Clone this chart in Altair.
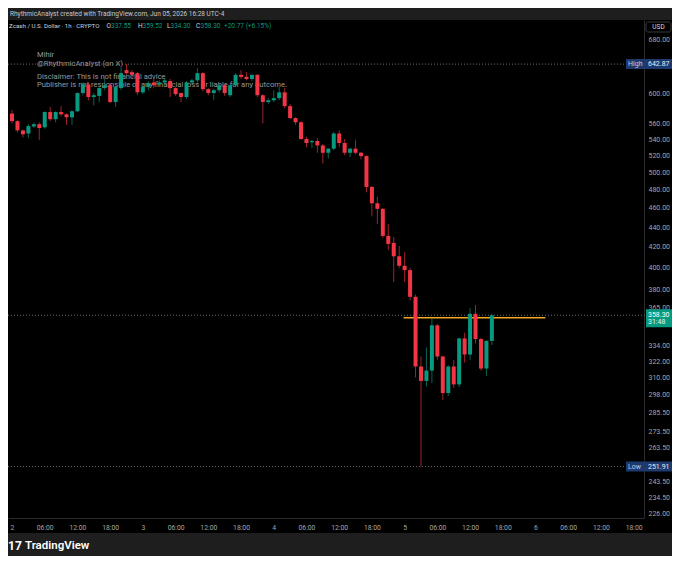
import altair as alt
import pandas as pd

FONT = "Roboto"
UP = "#089981"
DOWN = "#f23645"
GRAYTXT = "#a6a6a6"

# ---- candle data (Zcash / USD, 1h, from Jun 2 00:00) ----
hours = list(range(89))
opens = [573, 563, 551, 547, 556, 559, 555, 575, 565.5, 575, 572, 568, 576, 601, 613, 595.5,
         597, 608, 612, 588.5, 608, 634, 631, 629.5, 602, 609.5, 616, 613, 616, 618, 608, 601,
         595.5, 616, 619, 629.5, 606.5, 601, 605, 612, 598, 612, 627, 624, 621, 627, 598, 588.5,
         591, 594, 602, 583, 567, 561.5, 540, 536, 537.5, 532, 523, 528, 547, 535, 523, 528,
         523, 519, 483, 465, 459, 431, 424, 411, 402, 398, 374, 318, 307.5, 315, 350, 325.5,
         299, 318, 305, 339.5, 327, 359.5, 339, 316.5, 337.55]
highs = [578, 564, 552, 559, 561, 561.5, 576, 582, 576, 583, 573, 578, 602, 616, 615, 601,
         611, 622, 615, 611, 637, 642.87, 634, 631, 612, 618, 621, 619, 622, 621, 609.5, 602,
         618, 621, 637, 631, 608, 606.5, 613.5, 613.5, 613.5, 629.5, 634, 631, 628, 628, 599.5, 594,
         605, 609.5, 608, 586, 568, 563, 543, 539, 541, 534, 529, 549, 551, 540, 529, 539,
         524, 520, 484, 472, 460, 443, 430, 421, 415, 400, 376, 325.5, 332.5, 355.5, 351, 326,
         319, 323, 340, 344, 364.5, 367, 340, 338, 359.52]
lows = [560, 548.5, 542, 541, 554, 539, 553, 563, 561.5, 569.5, 558, 558, 575, 598, 591, 584,
        588.5, 605, 587, 582, 605, 627, 622, 598, 599.5, 605, 608, 611, 613.5, 595.5, 597, 588.5,
        593, 613.5, 616, 603.5, 598, 591, 602, 597, 595.5, 609.5, 621, 619, 618, 595.5, 560, 586,
        588.5, 591, 580, 565.5, 558, 539, 530, 529, 523, 510, 516, 526, 530, 520, 517.5, 521,
        515, 477, 451, 443, 429, 417, 387, 400, 387, 371, 310, 251.91, 303.5, 306, 323, 294,
        297, 302.5, 303, 321, 323, 335.5, 315, 311, 334.30]
closes = [563, 551, 546, 556.5, 559, 554, 575, 565.5, 575, 572, 568, 576, 601, 613.5, 595.5, 598,
          608, 612, 588.5, 609.5, 629.5, 629.5, 627, 602, 609.5, 615, 612, 616, 619, 608, 599.5, 595.5,
          616, 619, 629.5, 606.5, 601, 605, 612, 601, 612, 627, 624, 621, 627, 598, 588.5, 591,
          594, 602, 583, 567, 561.5, 540, 535, 537.5, 532, 523, 528, 547, 535, 523, 528, 523,
          519, 483, 465, 459, 431, 423, 411, 402, 398, 374, 318, 307.5, 315, 350, 325.5, 299,
          318, 305, 339.5, 327, 359.5, 339, 316.5, 337.55, 358.30]

# axis ticks
x_ticks = list(range(0, 115, 6))
y_ticks = [680, 600, 560, 540, 520, 500, 480, 460, 440, 420, 400, 380, 365, 334, 322, 310,
           298, 285.5, 273.5, 263.5, 243.5, 234.5, 226]

# reference levels
high_level = [642.87]
low_level = [251.91]
last_price = [358.30]
hline_level = [356.3]
hline_start = [71.8]
hline_end = [97.8]

df = pd.DataFrame(dict(h=hours, o=opens, hi=highs, lo=lows, c=closes))
up_df = df[df.c >= df.o]
dn_df = df[df.c < df.o]

x_scale = alt.Scale(domain=[0.1805, 114.98], nice=False, zero=False)
y_scale = alt.Scale(type="log", domain=[223.5, 712.4], nice=False)

x_axis = alt.Axis(
    values=x_ticks,
    labelExpr="datum.value % 24 == 0 ? format(2 + datum.value / 24, 'd') : "
              "(datum.value % 24 < 10 ? '0' : '') + format(datum.value % 24, 'd') + ':00'",
    title=None, grid=False, ticks=False, tickSize=0, domainColor="#2b2b2b",
    labelColor=GRAYTXT, labelFont=FONT, labelFontSize=6.8, labelPadding=9,
    labelBaseline="middle", labelFlush=False, labelOverlap=False)
y_axis = alt.Axis(
    orient="right", values=y_ticks, format=".2f", title=None, grid=False, ticks=False,
    tickSize=0, domainColor="#2b2b2b", labelColor=GRAYTXT, labelFont=FONT, labelFontSize=7,
    labelPadding=4, labelAlign="left", labelBaseline="middle", labelOverlap=False,
    labelFlush=False)

XQ = dict(scale=x_scale, axis=x_axis)
YQ = dict(scale=y_scale, axis=y_axis)

one = pd.DataFrame({"a": [0]})


def box(x, x2, y, y2, color, stroke=None):
    kw = dict(color=color)
    if stroke:
        kw.update(stroke=stroke, strokeWidth=1, cornerRadius=2)
    return alt.Chart(one).mark_rect(**kw).encode(
        x=alt.value(x), x2=alt.value(x2), y=alt.value(y), y2=alt.value(y2))


def label(txt, x, y, size=7, color=GRAYTXT, align="left", weight="normal"):
    return alt.Chart(pd.DataFrame({"t": [txt]})).mark_text(
        align=align, baseline="middle", fontSize=size, color=color, font=FONT,
        fontWeight=weight).encode(x=alt.value(x), y=alt.value(y), text="t:N")


def wick(d, color):
    return alt.Chart(d).mark_rule(color=color, strokeWidth=1, opacity=0.65).encode(
        x=alt.X("h:Q", **XQ),
        y=alt.Y("lo:Q", **YQ),
        y2="hi:Q")


def body(d, color):
    return alt.Chart(d).mark_bar(color=color, size=4).encode(
        x=alt.X("h:Q", **XQ),
        y=alt.Y("o:Q", **YQ),
        y2="c:Q")


def level_line(val, x2, color):
    return alt.Chart(pd.DataFrame({"p": val})).mark_rule(
        color=color, strokeWidth=1, strokeDash=[1, 2]).encode(
        x=alt.value(0), x2=alt.value(x2),
        y=alt.Y("p:Q", **YQ))


def price_box(val, color, top, bottom, x=618, x2=664):
    return alt.Chart(pd.DataFrame({"p": val})).mark_rect(
        color=color, yOffset=top, y2Offset=bottom).encode(
        x=alt.value(x), x2=alt.value(x2),
        y=alt.Y("p:Q", **YQ), y2="p:Q")


def price_text(val, txt, x, color, dy=0, size=7):
    return alt.Chart(pd.DataFrame({"p": val, "t": [txt]})).mark_text(
        align="left", baseline="middle", fontSize=size, color=color, font=FONT, dy=dy).encode(
        x=alt.value(x), y=alt.Y("p:Q", **YQ), text="t:N")


WM = "#989898"
LEG = 6.5
layers = [
    # watermark / texts behind candles
    label("Mihir", 29, 35, size=7.6, color=WM),
    label("@RhythmicAnalyst (on X)", 29, 43.5, size=7.6, color=WM),
    label("Disclaimer: This is not financial advice", 29, 56.5, size=7.6, color=WM),
    label("Publisher is not responsible of any financial loss or liable for any outcome.", 29, 64.5,
          size=7.6, color=WM),
    # level lines
    level_line(high_level, 618, "#6b6b6b"),
    level_line(low_level, 618, "#6b6b6b"),
    level_line(last_price, 638, "#5a6b66"),
    # orange horizontal line
    alt.Chart(pd.DataFrame({"p": hline_level, "s": hline_start, "e": hline_end})).mark_rule(
        color="#f5a623", strokeWidth=1.5).encode(
        x=alt.X("s:Q", **XQ), x2="e:Q",
        y=alt.Y("p:Q", **YQ)),
    # candles
    wick(up_df, UP), wick(dn_df, DOWN),
    body(up_df, UP), body(dn_df, DOWN),
    # price labels on axis
    price_box(high_level, "#1d3a6e", -5, 5),
    price_text(high_level, "High", 620, "#b9c9ef"),
    price_text(high_level, "642.87", 640, "#e6ecf8"),
    price_box(low_level, "#1d3a6e", -5, 5),
    price_text(low_level, "Low", 620, "#b9c9ef"),
    price_text(low_level, "251.91", 640, "#e6ecf8"),
    price_box(last_price, UP, -6, 12, x=638, x2=664),
    price_text(last_price, "358.30", 640, "#ffffff"),
    price_text(last_price, "31:48", 640, "#e8f5f2", dy=7),
    # header / legend line
    label("Zcash / U.S. Dollar · 1h · CRYPTO", 1, 6, size=6.2, color="#d1d4dc"),
    label("O", 98.5, 6, size=LEG, color="#d1d4dc"), label("337.55", 103, 6, size=LEG, color=UP),
    label("H", 130, 6, size=LEG, color="#d1d4dc"), label("359.52", 134.5, 6, size=LEG, color=UP),
    label("L", 159, 6, size=LEG, color="#d1d4dc"), label("334.30", 162.5, 6, size=LEG, color=UP),
    label("C", 188, 6, size=LEG, color="#d1d4dc"), label("358.30", 192.5, 6, size=LEG, color=UP),
    label("+20.77 (+6.15%)", 216, 6, size=LEG, color=UP),
    # USD box
    box(638, 663, 2, 12, "#000000", stroke="#3a3a3a"),
    label("USD", 650.5, 7, size=6.5, color="#d1d4dc", align="center"),
    # frame: top bar, footer
    box(-10, 680, -14, 0, "#1e1e1e"),
    label("RhythmicAnalyst created with TradingView.com, Jun 05, 2026 16:28 UTC-4", 2, -6,
          size=6.5, color="#c8c8c8"),
    box(-10, 680, 513, 545, "#1e1e1e"),
    label("17", 0, 526, size=12, color="#ffffff", weight="bold"),
    label("TradingView", 17, 526, size=11.5, color="#ffffff", weight=600),
]

chart = alt.layer(*layers).properties(
    width=636, height=498, background="#000000",
    padding={"left": 0, "top": 12, "right": 28, "bottom": 38},
    autosize=alt.AutoSizeParams(type="none"),
).configure_view(stroke="transparent")

chart.save("out.html", embed_options={"renderer": "svg", "actions": False})
